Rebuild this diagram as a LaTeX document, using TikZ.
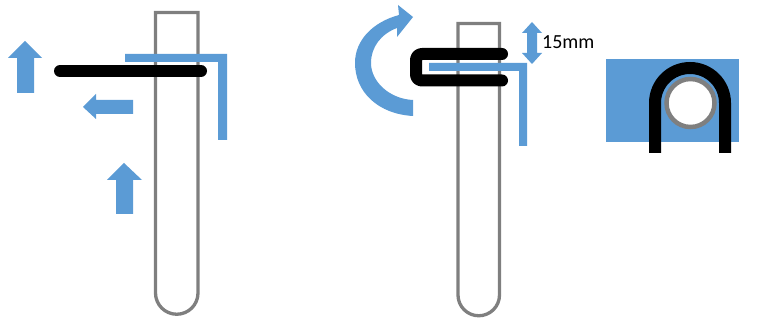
\documentclass[tikz,border=0pt]{standalone}
\usepackage{fontspec}
\setmainfont{Carlito}
\usepackage{xcolor}
\usetikzlibrary{positioning}
\definecolor{clipblue}{RGB}{91,155,213}
\definecolor{tubegray}{RGB}{127,127,127}

\begin{document}
\begin{tikzpicture}[x=1pt, y=-1pt,
  tube/.style={draw=tubegray, line width=3.3pt},
  clipband/.style={draw=black, line width=12pt, line cap=round, line join=round},
  bluepart/.style={fill=clipblue, draw=none},
  every node/.style={font=\fontsize{20}{24}\selectfont}
]
  \useasboundingbox (0,0) rectangle (768,320);

  % Left test tube
  \draw[tube] (155.5,12.5) -- (198,12.5) -- (198,293) arc[start angle=0, end angle=180, radius=21.25] -- cycle;

  % Left bracket
  \fill[bluepart] (125,54) -- (227,54) -- (227,140) -- (218,140) -- (218,62) -- (125,62) -- cycle;

  % Black bar
  \coordinate (barL) at (60,71);
  \coordinate (barR) at (201,71);
  \draw[clipband] (barL) -- (barR);

  % Block arrows
  \fill[bluepart] (25,41) -- (42,58) -- (34,58) -- (34,93) -- (17,93) -- (17,58) -- (8,58) -- cycle;
  \fill[bluepart] (83,107) -- (96,94) -- (96,100) -- (133,100) -- (133,114) -- (96,114) -- (96,119) -- cycle;
  \fill[bluepart] (124,163) -- (142,180) -- (133,180) -- (133,214) -- (116,214) -- (116,180) -- (107,180) -- cycle;

  % Right test tube
  \draw[tube] (458,23.5) -- (499.5,23.5) -- (499.5,295) arc[start angle=0, end angle=180, radius=20.75] -- cycle;

  % Right bracket
  \fill[bluepart] (429,63) -- (527,63) -- (527,146) -- (519,146) -- (519,71) -- (429,71) -- cycle;

  % Folded band
  \coordinate (foldT) at (502,54);
  \coordinate (foldB) at (502,80.5);
  \draw[clipband, rounded corners=6pt] (foldT) -- (416,54) -- (416,80.5) -- (foldB);

  % Turning arrow
  \fill[bluepart] (413,116) .. controls (378,114) and (355,92) .. (355,63)
    .. controls (355,40) and (373,22) .. (399,15) -- (398,5) -- (413,17) -- (397,37) -- (397,28)
    .. controls (381,34) and (371,47) .. (371,63)
    .. controls (371,82) and (390,99) .. (413,100) -- cycle;

  % Height arrow and label
  \fill[bluepart] (532,22) -- (542,33) -- (537,33) -- (537,53) -- (542,53) -- (532,64) -- (522,53) -- (527,53) -- (527,33) -- (522,33) -- cycle;
  \node[anchor=west, inner sep=0pt] (height) at (542,42) {15mm};

  % Top view
  \fill[bluepart] (606,59) rectangle (739,142);
  \draw[draw=tubegray, fill=white, line width=4.5pt] (690.5,103) circle[radius=24];
  \coordinate (archL) at (655,153);
  \coordinate (archR) at (725,153);
  \draw[draw=black, line width=12pt] (archL) -- (655,103) arc[start angle=180, end angle=360, radius=35] -- (archR);
\end{tikzpicture}
\end{document}
